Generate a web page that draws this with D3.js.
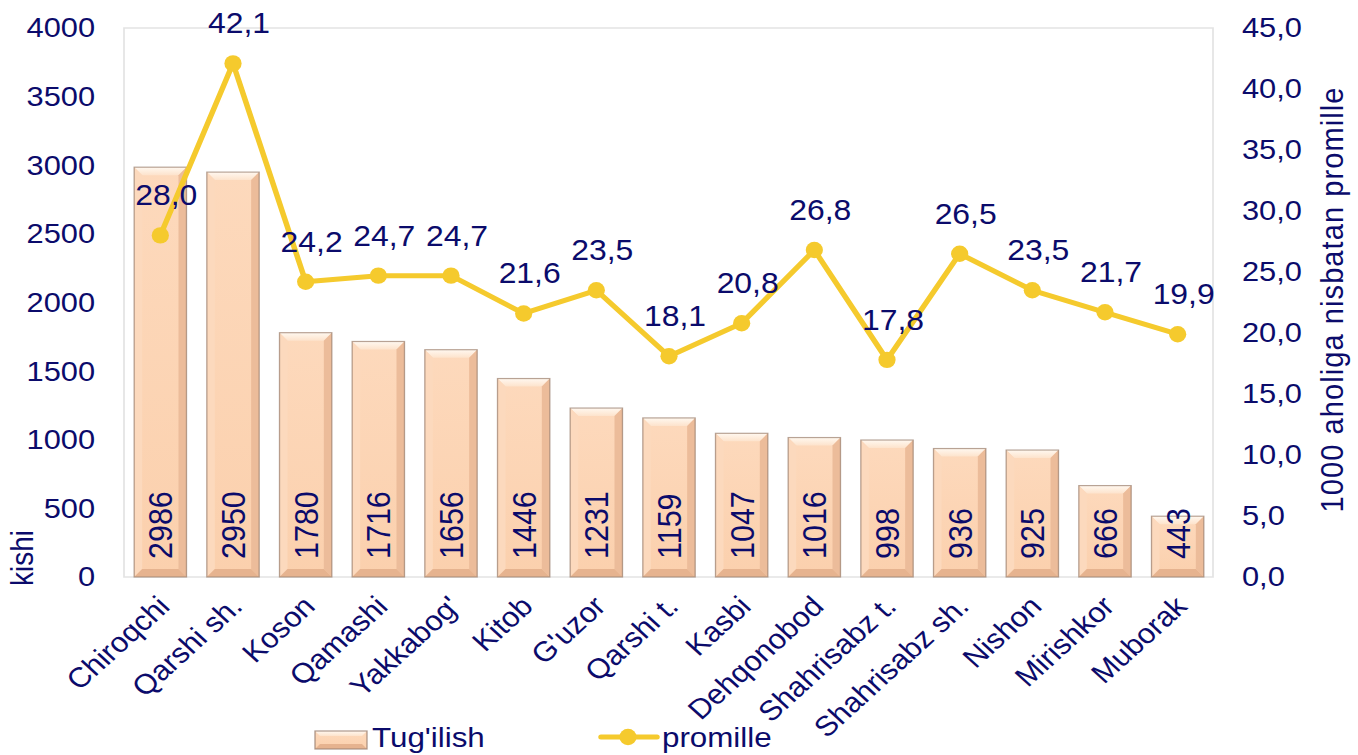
<!DOCTYPE html>
<html>
<head>
<meta charset="utf-8">
<script src="https://cdn.jsdelivr.net/npm/d3@7"></script>
<style>
  body { margin: 0; background: #fff; }
  svg { display: block; font-family: "Liberation Sans", Arial, sans-serif; }
</style>
</head>
<body>
<div id="chart"></div>
<script>
(function () {
  "use strict";

  var districts = ["Chiroqchi", "Qarshi sh.", "Koson", "Qamashi", "Yakkabog'", "Kitob", "G'uzor",
    "Qarshi t.", "Kasbi", "Dehqonobod", "Shahrisabz t.", "Shahrisabz sh.", "Nishon", "Mirishkor", "Muborak"];
  var births = [2986, 2950, 1780, 1716, 1656, 1446, 1231, 1159, 1047, 1016, 998, 936, 925, 666, 443];
  var promille = [28.0, 42.1, 24.2, 24.7, 24.7, 21.6, 23.5, 18.1, 20.8, 26.8, 17.8, 26.5, 23.5, 21.7, 19.9];
  var leftTicks = [0, 500, 1000, 1500, 2000, 2500, 3000, 3500, 4000];
  var rightTicks = [0, 5, 10, 15, 20, 25, 30, 35, 40, 45];

  var W = 1358, H = 755,
    sx = 1.1,           // picture is a bit stretched horizontally
    navy = "#0b0b6b",
    yellow = "#f5ca2d",
    fmt = function (v) { return d3.format(".1f")(v).replace(".", ","); };

  // screen x -> inner x
  function ix(v) { return v / sx; }

  var svg = d3.select("#chart").append("svg")
    .attr("width", W).attr("height", H);

  var defs = svg.append("defs");
  var g1 = defs.append("linearGradient").attr("id", "barFill")
    .attr("x1", 0).attr("x2", 0).attr("y1", 0).attr("y2", 1);
  g1.append("stop").attr("offset", "0%").attr("stop-color", "#fdd9bc");
  g1.append("stop").attr("offset", "100%").attr("stop-color", "#fbd0ad");
  var g2 = defs.append("linearGradient").attr("id", "topBevel")
    .attr("x1", 0).attr("x2", 0).attr("y1", 0).attr("y2", 1);
  g2.append("stop").attr("offset", "0%").attr("stop-color", "#fff8f0");
  g2.append("stop").attr("offset", "100%").attr("stop-color", "#fde3cc");

  var root = svg.append("g").attr("transform", "scale(" + sx + ",1)");

  var x = d3.scaleBand().domain(districts).range([ix(124), ix(1214)]).paddingInner(0.28).paddingOuter(0.14);
  var y = d3.scaleLinear().domain([0, 4000]).range([577, 28]);
  var y2 = d3.scaleLinear().domain([0, 45]).range([577, 28]);

  // plot area frame
  root.append("rect")
    .attr("x", ix(124)).attr("y", 28)
    .attr("width", ix(1213) - ix(124)).attr("height", 549)
    .attr("fill", "none").attr("stroke", "#e3e3e3").attr("stroke-width", 1.5);

  // axes
  var yAxisL = root.append("g").attr("transform", "translate(" + ix(124) + ",0)")
    .call(d3.axisLeft(y).tickValues(leftTicks).tickSize(0).tickPadding(ix(29)).tickFormat(d3.format("d")));
  var yAxisR = root.append("g").attr("transform", "translate(" + ix(1213) + ",0)")
    .call(d3.axisRight(y2).tickValues(rightTicks).tickSize(0).tickPadding(ix(29)).tickFormat(fmt));
  [yAxisL, yAxisR].forEach(function (a) {
    a.select(".domain").remove();
    a.selectAll("text").attr("fill", navy).style("font-size", "28px")
      .style("font-family", "Liberation Sans, Arial, sans-serif");
  });

  // bevelled bars
  function bevelBar(sel, bx, by, bw, bh) {
    var b = Math.min(8, bh / 2), bxw = ix(8);
    sel.append("rect").attr("x", bx).attr("y", by).attr("width", bw).attr("height", bh)
      .attr("fill", "url(#barFill)");
    sel.append("polygon").attr("fill", "url(#topBevel)")
      .attr("points", [[bx, by], [bx + bw, by], [bx + bw - bxw, by + b], [bx + bxw, by + b]].join(" "));
    sel.append("polygon").attr("fill", "#ecbc9a")
      .attr("points", [[bx + bw, by], [bx + bw, by + bh], [bx + bw - bxw, by + bh - b], [bx + bw - bxw, by + b]].join(" "));
    sel.append("polygon").attr("fill", "#fcd9bd")
      .attr("points", [[bx, by], [bx + bxw, by + b], [bx + bxw, by + bh - b], [bx, by + bh]].join(" "));
    sel.append("polygon").attr("fill", "#e6b38f")
      .attr("points", [[bx, by + bh], [bx + bxw, by + bh - b], [bx + bw - bxw, by + bh - b], [bx + bw, by + bh]].join(" "));
    sel.append("rect").attr("x", bx).attr("y", by).attr("width", bw).attr("height", bh)
      .attr("fill", "none").attr("stroke", "#9a8070").attr("stroke-opacity", 0.7).attr("stroke-width", 1.2);
  }

  var bars = root.append("g");
  districts.forEach(function (d, i) {
    bevelBar(bars.append("g"), x(d), y(births[i]), x.bandwidth(), y(0) - y(births[i]));
  });

  // vertical value labels in bars
  root.append("g").selectAll("text").data(births).join("text")
    .attr("transform", function (v, i) {
      return "translate(" + (x(districts[i]) + x.bandwidth() / 2) + ",559) rotate(-90)";
    })
    .attr("dy", "0.36em")
    .attr("fill", navy).style("font-size", "30.5px")
    .text(function (v) { return v; });

  // promille line
  var cx = function (i) { return x(districts[i]) + x.bandwidth() / 2; };
  var line = d3.line().x(function (v, i) { return cx(i); }).y(function (v) { return y2(v); });
  root.append("path").datum(promille)
    .attr("d", line).attr("fill", "none").attr("stroke", yellow)
    .attr("stroke-width", 5).attr("stroke-linejoin", "round");
  root.append("g").selectAll("ellipse").data(promille).join("ellipse")
    .attr("cx", function (v, i) { return cx(i); })
    .attr("cy", function (v) { return y2(v); })
    .attr("rx", 8.2 / sx * 1.05).attr("ry", 8.2)
    .attr("fill", yellow);
  root.append("g").selectAll("text").data(promille).join("text")
    .attr("x", function (v, i) { return cx(i) + ix(6); })
    .attr("y", function (v) { return y2(v) - 30; })
    .attr("text-anchor", "middle")
    .attr("fill", navy).style("font-size", "29px")
    .text(fmt);

  // category labels
  root.append("g").selectAll("text").data(districts).join("text")
    .attr("transform", function (d, i) {
      return "translate(" + (cx(i) + ix(11)) + ",608) rotate(-45)";
    })
    .attr("text-anchor", "end")
    .attr("fill", navy).style("font-size", "28px")
    .text(function (d) { return d; });

  // axis titles
  root.append("text")
    .attr("transform", "translate(" + ix(33) + ",558) rotate(-90)")
    .attr("text-anchor", "middle").attr("fill", navy).style("font-size", "28px")
    .text("kishi");
  root.append("text")
    .attr("transform", "translate(" + ix(1343) + ",300) rotate(-90)")
    .attr("text-anchor", "middle").attr("fill", navy).style("font-size", "29px")
    .attr("textLength", 425).attr("lengthAdjust", "spacing")
    .text("1000 aholiga nisbatan promille");

  // legend
  var leg = root.append("g");
  var lb = leg.append("g");
  lb.append("rect").attr("x", ix(315)).attr("y", 731).attr("width", ix(367) - ix(315)).attr("height", 18)
    .attr("fill", "url(#barFill)");
  lb.append("polygon").attr("fill", "url(#topBevel)")
    .attr("points", [[ix(315), 731], [ix(367), 731], [ix(362), 736], [ix(320), 736]].join(" "));
  lb.append("polygon").attr("fill", "#e6b38f")
    .attr("points", [[ix(315), 749], [ix(320), 744], [ix(362), 744], [ix(367), 749]].join(" "));
  lb.append("rect").attr("x", ix(315)).attr("y", 731).attr("width", ix(367) - ix(315)).attr("height", 18)
    .attr("fill", "none").attr("stroke", "#9a8070").attr("stroke-opacity", 0.8).attr("stroke-width", 1.2);
  leg.append("text").attr("x", ix(372)).attr("y", 747)
    .attr("fill", navy).style("font-size", "28.5px").text("Tug'ilish");
  leg.append("line").attr("x1", ix(601)).attr("x2", ix(657)).attr("y1", 737).attr("y2", 737)
    .attr("stroke", yellow).attr("stroke-width", 5).attr("stroke-linecap", "round");
  leg.append("ellipse").attr("cx", ix(628)).attr("cy", 737).attr("rx", 8.2 / sx * 1.05).attr("ry", 8.2)
    .attr("fill", yellow);
  leg.append("text").attr("x", ix(662)).attr("y", 747)
    .attr("fill", navy).style("font-size", "28.5px").text("promille");
})();
</script>
</body>
</html>
